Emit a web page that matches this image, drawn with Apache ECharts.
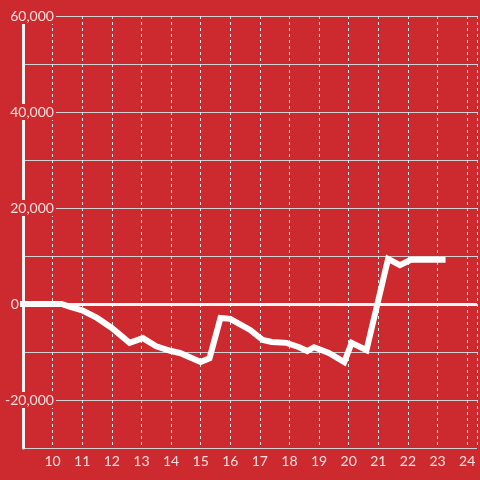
<!DOCTYPE html>
<html>
<head>
<meta charset="utf-8">
<script src="https://cdn.jsdelivr.net/npm/echarts@6/dist/echarts.min.js"></script>
<style>
html,body{margin:0;padding:0;background:#cc2a2f;}
#c{width:480px;height:480px;}
</style>
</head>
<body>
<div id="c"></div>
<script>
const xValues = [9.0, 10.3, 10.6, 11.0, 11.5, 12.0, 12.6, 13.05, 13.5, 14.0, 14.3, 15.0, 15.3, 15.67, 16.0, 16.67, 17.1, 17.4, 17.9, 18.33, 18.6, 18.83, 19.33, 19.85, 20.1, 20.6, 21.33, 21.73, 22.1, 23.17];
const yValues = [0, 0, -600, -1300, -2900, -5000, -8100, -7100, -8800, -9800, -10200, -12100, -11300, -2900, -3100, -5400, -7500, -7900, -8100, -9000, -9800, -9000, -10200, -12100, -8100, -9600, 9400, 8100, 9200, 9200];
const yTickLabels = [-20000, 0, 20000, 40000, 60000];

const BG = '#cc2a2f';
const TXT = 'rgba(255,240,240,0.92)';
const FONT = 'Lato';

const chart = echarts.init(document.getElementById('c'));
chart.setOption({
  backgroundColor: BG,
  animation: false,
  grid: {left: 20, right: 0, top: 16, bottom: 32, containLabel: false},
  xAxis: {
    type: 'value', min: 9, max: 24.333, interval: 1,
    axisLine: {show: true, lineStyle: {color: '#cfcfcf', width: 1}},
    axisTick: {show: false},
    splitLine: {show: true, lineStyle: {color: '#e6e6e6', width: 1, type: [3, 3]}},
    axisLabel: {
      color: TXT, fontFamily: FONT, fontSize: 14, margin: 6,
      formatter: v => (Number.isInteger(v) && v > 9) ? String(v) : ''
    }
  },
  yAxis: {
    type: 'value', min: -30000, max: 60000, interval: 10000,
    axisLine: {show: true, onZero: false, lineStyle: {color: '#f2f2f2', width: 3}},
    axisTick: {show: false},
    splitLine: {show: true, lineStyle: {color: '#d0d0d0', width: 1}},
    axisLabel: {
      align: 'right', margin: -33, color: TXT, fontFamily: FONT, fontSize: 14,
      formatter: v => {
        if (!yTickLabels.includes(v)) return '';
        if (v === 0) return '{z|0}';
        return '{a|' + v.toLocaleString('en-US') + '}';
      },
      rich: {
        a: {backgroundColor: BG, padding: [1, 2, 1, 2], color: TXT, fontFamily: FONT, fontSize: 14},
        z: {padding: [0, 37, 0, 0], color: TXT, fontFamily: FONT, fontSize: 14}
      }
    }
  },
  series: [{
    type: 'line',
    data: xValues.map((x, i) => [x, yValues[i]]),
    showSymbol: false,
    lineStyle: {color: '#ffffff', width: 6, cap: 'square', join: 'miter'},
    markLine: {
      silent: true, symbol: 'none', label: {show: false},
      lineStyle: {color: '#f8f8f8', width: 3, type: 'solid'},
      data: [{yAxis: 0}]
    },
    z: 3
  }]
});
</script>
</body>
</html>
